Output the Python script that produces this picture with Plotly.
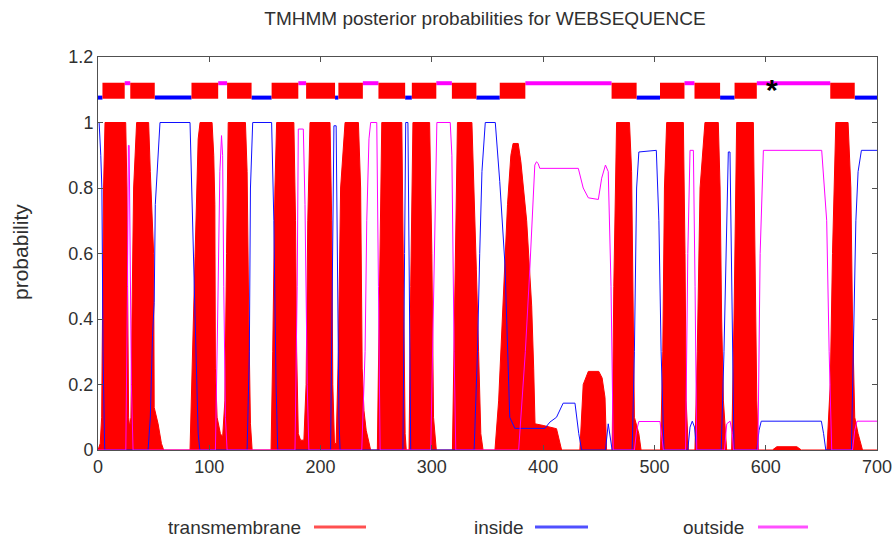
import plotly.graph_objects as go

# ---------------- data ----------------
tm_x = [0, 2, 3.3, 4.2, 5, 6.3, 24.9, 26, 26.8, 27.5, 28.5, 29.6, 30.5, 32, 34.7, 45.5, 47, 48.2, 50, 50.5, 54, 57, 59,
        82.7, 84.2, 87.2, 90, 91.7, 102.5, 104, 105, 105.5, 107, 110, 112, 114, 115.5, 117, 132.5, 134, 135.5, 137, 138.5,
        155.5, 157, 159, 160.5, 176, 177.5, 178.5, 180, 182, 185, 187, 188.5, 190.5, 208.5, 210, 211, 212.5, 214, 216, 218,
        222, 234, 236, 237.4, 239, 241, 244, 245,
        251, 253, 255, 273, 274.5, 276, 277,
        279.5, 281, 283, 298, 300, 301.5, 303, 304,
        318.5, 320.5, 323, 336, 338, 340, 342, 344, 346,
        356.7, 360, 364.5, 368, 371, 373, 377.6, 380, 385.2, 389.7, 391.5, 392.7, 400, 405, 412, 416.6,
        433, 436, 440.6, 450, 453, 455.6, 457,
        462, 463.5, 466, 477.6, 479.5, 481, 482, 486, 488,
        505.5, 507.5, 509, 511, 526, 527.5, 528.5, 530.5,
        536.4, 538.5, 541, 545.4, 557.4, 559, 560.4, 562, 564.9,
        569.4, 571.5, 573.9, 588.9, 590.5, 592, 593.4,
        606, 610, 628, 632,
        655, 658, 660, 663, 674, 676.5, 678, 680, 683, 687, 700]
tm_y = [0, 0.02, 0.1, 0.5, 0.8, 1.0, 1.0, 0.8, 0.4, 0.1, 0.07, 0.1, 0.4, 0.8, 1.0, 1.0, 0.85, 0.75, 0.6, 0.13, 0.08, 0.02, 0,
        0, 0.23, 0.59, 0.95, 1.0, 1.0, 0.9, 0.75, 0.25, 0.1, 0.05, 0.04, 0.15, 0.6, 1.0, 1.0, 0.85, 0.4, 0.08, 0,
        0, 0.3, 0.8, 1.0, 1.0, 0.7, 0.3, 0.05, 0.03, 0.03, 0.2, 0.7, 1.0, 1.0, 0.7, 0.2, 0.02, 0.02, 0.3, 0.8,
        1.0, 1.0, 0.8, 0.25, 0.12, 0.06, 0.01, 0,
        0, 0.5, 1.0, 1.0, 0.6, 0.05, 0,
        0, 0.5, 1.0, 1.0, 0.6, 0.1, 0.02, 0,
        0, 0.5, 1.0, 1.0, 0.8, 0.55, 0.3, 0.05, 0,
        0, 0.15, 0.5, 0.75, 0.9, 0.936, 0.936, 0.88, 0.7, 0.44, 0.25, 0.08, 0.075, 0.07, 0.065, 0,
        0, 0.2, 0.24, 0.24, 0.22, 0.16, 0,
        0, 0.5, 1.0, 1.0, 0.85, 0.4, 0.1, 0.05, 0,
        0, 0.3, 0.8, 1.0, 1.0, 0.6, 0.15, 0,
        0, 0.3, 0.8, 1.0, 1.0, 0.8, 0.4, 0.15, 0,
        0, 0.4, 1.0, 1.0, 0.6, 0.15, 0,
        0, 0.01, 0.01, 0,
        0, 0.2, 0.6, 1.0, 1.0, 0.8, 0.4, 0.1, 0.05, 0, 0]

in_x = [0, 1, 2.5, 3.5, 4.5, 6, 45, 47, 49, 50.5, 51.5, 53, 55.7, 82.7, 84.2, 87.2, 90, 91.5,
        134, 136, 137, 139, 156, 158, 160, 161.5, 209, 211, 212, 214, 215, 216.5, 217.5,
        274, 275.5, 276.5, 278.5, 279.5, 281, 338, 341, 343, 345, 348, 357, 361, 365.7, 370, 374.6,
        401.6, 406, 412, 416, 418, 428.6, 432, 434.6, 456, 458.5, 460, 462,
        480, 482, 484, 486, 501.7, 504, 506, 508.6, 530, 532, 534, 536, 538,
        560, 562.5, 564.5, 566.4, 567.9, 569, 570.5, 571.5, 592, 594, 596, 650, 652, 654,
        677, 679, 681, 683, 686, 700]
in_y = [1.0, 1.0, 0.9, 0.8, 0.3, 0, 0, 0.1, 0.35, 0.45, 0.75, 0.85, 1.0, 1.0, 0.77, 0.41, 0.05, 0,
        0, 0.3, 0.8, 1.0, 1.0, 0.7, 0.2, 0, 0, 0.7, 0.99, 0.99, 0.6, 0.1, 0,
        0, 0.6, 1.0, 1.0, 0.6, 0, 0, 0.3, 0.6, 0.85, 1.0, 1.0, 0.82, 0.565, 0.1, 0.066,
        0.066, 0.085, 0.1, 0.13, 0.143, 0.143, 0.05, 0, 0, 0.08, 0.05, 0,
        0, 0.3, 0.8, 0.91, 0.915, 0.7, 0.3, 0, 0, 0.07, 0.088, 0.07, 0,
        0, 0.3, 0.6, 0.91, 0.91, 0.6, 0.1, 0, 0, 0.06, 0.088, 0.088, 0.05, 0,
        0, 0.3, 0.7, 0.85, 0.915, 0.915]

out_x = [0, 25, 26.5, 27.3, 28, 28.8, 30, 31.5, 105.5, 107.5, 109.5, 111, 112, 113, 114.5, 116,
         177, 179, 180, 184.5, 186, 188, 189.5, 237, 240, 241.5, 243.5, 245, 250.5, 252, 253.5,
         299, 302, 304.5, 316.5, 318, 320, 321.5,
         378, 384, 388, 390.5, 392.5, 394, 395.5, 397, 431.6, 436, 440.6, 449.6, 452.6, 456, 458.5, 461, 463,
         482, 484, 486, 505, 507, 508, 528, 530, 532, 535, 536.5, 538, 563, 565, 568, 570, 571,
         593, 595, 597.9, 650.3, 654.8, 657, 659.3, 678, 680, 682, 700]
out_y = [0, 0, 0.5, 0.93, 0.93, 0.6, 0.2, 0, 0, 0.4, 0.85, 0.96, 0.9, 0.5, 0.1, 0,
         0, 0.5, 0.98, 0.98, 0.75, 0.2, 0, 0, 0.3, 0.7, 0.95, 1.0, 1.0, 0.5, 0,
         0, 0.5, 1.0, 1.0, 0.9, 0.3, 0,
         0, 0.3, 0.55, 0.75, 0.87, 0.88, 0.875, 0.86, 0.86, 0.8, 0.77, 0.765, 0.83, 0.87, 0.85, 0.5, 0,
         0, 0.06, 0.087, 0.087, 0.03, 0, 0, 0.6, 0.915, 0.915, 0.5, 0, 0, 0.08, 0.088, 0.05, 0,
         0, 0.6, 0.915, 0.915, 0.7, 0.3, 0, 0, 0.06, 0.088, 0.088]

# topology strip segments (start, end)
tm_segments = [(4, 24), (29, 51), (84, 108), (116, 138), (156, 180), (187, 213), (216, 238), (252, 276),
               (282, 304), (318, 340), (361, 384), (461.5, 484), (505, 527), (536, 559), (572, 592), (658, 680)]
inside_segments = [(0, 4), (51, 84), (138, 156), (213, 216), (276, 282), (340, 361), (484, 505),
                   (559, 572), (680, 700)]
outside_segments = [(24, 29), (108, 116), (180, 187), (238, 252), (304, 318), (384, 461.5), (527, 536),
                    (592, 658)]
strip_inside_y = 1.076
strip_outside_y = 1.12
strip_tm_y = 1.097

x_ticks = [0, 100, 200, 300, 400, 500, 600, 700]
y_ticks = [0, 0.2, 0.4, 0.6, 0.8, 1.0, 1.2]
y_ticklabels = ["0", "0.2", "0.4", "0.6", "0.8", "1", "1.2"]
legend_names = ["transmembrane", "inside", "outside"]
star_pos = (606, 1.11)

RED = "#ff0000"
BLUE = "#1010ff"
MAG = "#ff00ff"
FONT = "Liberation Sans, Arial, sans-serif"
TXT = "#303030"


def seg_xy(segs, yv):
    xs, ys = [], []
    for a, b in segs:
        xs += [a, b, None]
        ys += [yv, yv, None]
    return xs, ys


fig = go.Figure()
fig.add_trace(go.Scatter(x=tm_x, y=tm_y, mode="lines", line=dict(color=RED, width=1),
                         fill="tozeroy", fillcolor=RED, name="transmembrane"))
fig.add_trace(go.Scatter(x=in_x, y=in_y, mode="lines", line=dict(color=BLUE, width=1), name="inside"))
fig.add_trace(go.Scatter(x=out_x, y=out_y, mode="lines", line=dict(color=MAG, width=1), name="outside"))

sx, sy = seg_xy(inside_segments, strip_inside_y)
fig.add_trace(go.Scatter(x=sx, y=sy, mode="lines", line=dict(color="#0000ff", width=4), showlegend=False))
sx, sy = seg_xy(outside_segments, strip_outside_y)
fig.add_trace(go.Scatter(x=sx, y=sy, mode="lines", line=dict(color=MAG, width=4), showlegend=False))
sx, sy = seg_xy(tm_segments, strip_tm_y)
fig.add_trace(go.Scatter(x=sx, y=sy, mode="lines", line=dict(color=RED, width=16), showlegend=False))

fig.add_annotation(x=star_pos[0], y=star_pos[1], text="<b>*</b>", showarrow=False,
                   font=dict(size=30, color="black", family="Liberation Sans, Arial"), yshift=-3)

# geometry (pixels)
W, H = 892, 542
L, R, T, B = 98, 15, 57, 92
pw, ph = W - L - R, H - T - B


def px_x(p):
    return (p - L) / pw


def px_y(p):
    return (H - B - p) / ph


# legend drawn below the plot (text to the left of its line sample)
leg_text_right = [303, 526, 746]
leg_line = [(314, 366), (535, 588), (758, 808)]
leg_colors = ["#ff5050", "#5050ff", "#ff50ff"]
leg_py = 527
for name, tr, (a, b), c in zip(legend_names, leg_text_right, leg_line, leg_colors):
    fig.add_annotation(x=px_x(tr), y=px_y(leg_py), xref="paper", yref="paper",
                       text=name, showarrow=False, xanchor="right", yanchor="middle",
                       font=dict(size=19, color=TXT, family=FONT))
    fig.add_shape(type="line", xref="paper", yref="paper", x0=px_x(a), x1=px_x(b),
                  y0=px_y(leg_py), y1=px_y(leg_py), line=dict(color=c, width=3))

# y axis title
fig.add_annotation(x=px_x(20), y=px_y(252), xref="paper", yref="paper", text="probability",
                   textangle=-90, showarrow=False, xanchor="center", yanchor="middle",
                   font=dict(size=21, color=TXT, family=FONT))

axis_common = dict(showline=True, linecolor="#505050", linewidth=1, mirror="ticks", ticks="inside",
                   ticklen=5, tickcolor="#505050", showgrid=False, zeroline=False, automargin=False,
                   ticklabeloverflow="allow",
                   tickfont=dict(size=18, color=TXT, family=FONT))
fig.update_xaxes(range=[0, 700], tickvals=x_ticks, **axis_common)
fig.update_yaxes(range=[0, 1.2], tickvals=y_ticks, ticktext=y_ticklabels, **axis_common)

fig.update_layout(
    width=W, height=H, autosize=False,
    margin=dict(l=L, r=R, t=T, b=B),
    plot_bgcolor="white", paper_bgcolor="white",
    showlegend=False,
    title=dict(text="TMHMM posterior probabilities for WEBSEQUENCE", x=485 / W, xanchor="center",
               y=1 - 18 / H, yanchor="middle", font=dict(size=19, color=TXT, family=FONT)),
)

fig.write_html("out.html", config={"displayModeBar": False},
               post_script="document.body.style.margin='0px';")
